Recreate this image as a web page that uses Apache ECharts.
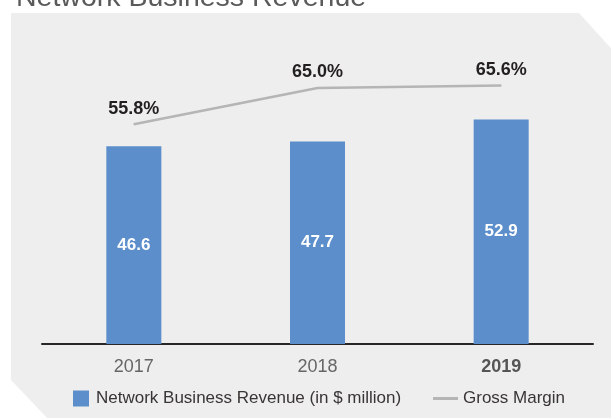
<!DOCTYPE html>
<html>
<head>
<meta charset="utf-8">
<script src="https://cdn.jsdelivr.net/npm/echarts@6/dist/echarts.min.js"></script>
<style>
  html, body { margin: 0; padding: 0; background: #ffffff; }
  #chart { width: 611px; height: 418px; }
</style>
</head>
<body>
<div id="chart"></div>
<script>
// Network business: revenue (bars, $ million) and gross margin (line, %)
const years = ['2017', '2018', '2019'];
const revenue = [46.6, 47.7, 52.9];
const grossMargin = [55.8, 65.0, 65.6];
const highlightYear = '2019';

const FONT = '"Liberation Sans", Arial, Helvetica, sans-serif';
const BAR_COLOR = '#5b8ecb';
const LINE_COLOR = '#b5b5b5';

const chart = echarts.init(document.getElementById('chart'), null, { renderer: 'canvas' });

chart.setOption({
  backgroundColor: '#ffffff',
  textStyle: { fontFamily: FONT },
  title: {
    text: 'Network Business Revenue',
    left: 11,
    top: -21,
    textStyle: { fontFamily: FONT, fontSize: 28.5, fontWeight: 'normal', color: '#5a5a5a' }
  },
  graphic: [{
    // light panel with clipped corners behind the plot
    type: 'polygon',
    z: -10,
    silent: true,
    shape: { points: [[11, 13], [579, 13], [640, 80], [640, 460], [87, 460], [11, 380]] },
    style: { fill: '#edeeed' }
  }],
  legend: [{
    data: ['Network Business Revenue (in $ million)'],
    left: 68,
    top: 385,
    icon: 'rect',
    itemWidth: 16,
    itemHeight: 16,
    textStyle: { fontFamily: FONT, fontSize: 17, color: '#3a3535', padding: [0, 0, 0, 2] }
  }, {
    data: ['Gross Margin'],
    left: 428,
    top: 385,
    icon: 'rect',
    itemWidth: 25,
    itemHeight: 3,
    itemStyle: { color: LINE_COLOR },
    textStyle: { fontFamily: FONT, fontSize: 17, color: '#3a3535', lineHeight: 16 }
  }],
  grid: { left: 42, right: 18, top: 47, bottom: 74 },
  xAxis: {
    type: 'category',
    data: years,
    boundaryGap: true,
    axisLine: { show: true, lineStyle: { color: '#2b2626', width: 2 } },
    axisTick: { show: false },
    axisLabel: {
      margin: 14,
      fontFamily: FONT,
      fontSize: 18,
      color: '#666666',
      formatter: v => v === highlightYear ? '{b|' + v + '}' : v,
      rich: { b: { fontFamily: FONT, fontSize: 18, fontWeight: 'bold', color: '#555555' } }
    }
  },
  yAxis: [{
    type: 'value',
    min: 0,
    max: 70,
    show: false,
    splitLine: { show: false }
  }, {
    type: 'value',
    min: 0,
    max: 75.4,
    show: false,
    splitLine: { show: false }
  }],
  series: [{
    name: 'Network Business Revenue (in $ million)',
    type: 'bar',
    data: revenue,
    barWidth: 55,
    yAxisIndex: 0,
    itemStyle: { color: BAR_COLOR },
    label: {
      show: true,
      position: 'inside',
      fontFamily: FONT,
      fontSize: 17,
      fontWeight: 'bold',
      color: '#ffffff',
      formatter: p => p.value.toFixed(1)
    }
  }, {
    name: 'Gross Margin',
    type: 'line',
    data: grossMargin,
    yAxisIndex: 1,
    symbol: 'circle',
    symbolSize: 1,
    itemStyle: { color: LINE_COLOR },
    lineStyle: { color: LINE_COLOR, width: 2.5 },
    clip: false,
    z: 3,
    label: {
      show: true,
      position: 'top',
      distance: 6,
      fontFamily: FONT,
      fontSize: 18,
      fontWeight: 'bold',
      color: '#231f20',
      formatter: p => p.value.toFixed(1) + '%'
    }
  }],
  animation: false
});
</script>
</body>
</html>
